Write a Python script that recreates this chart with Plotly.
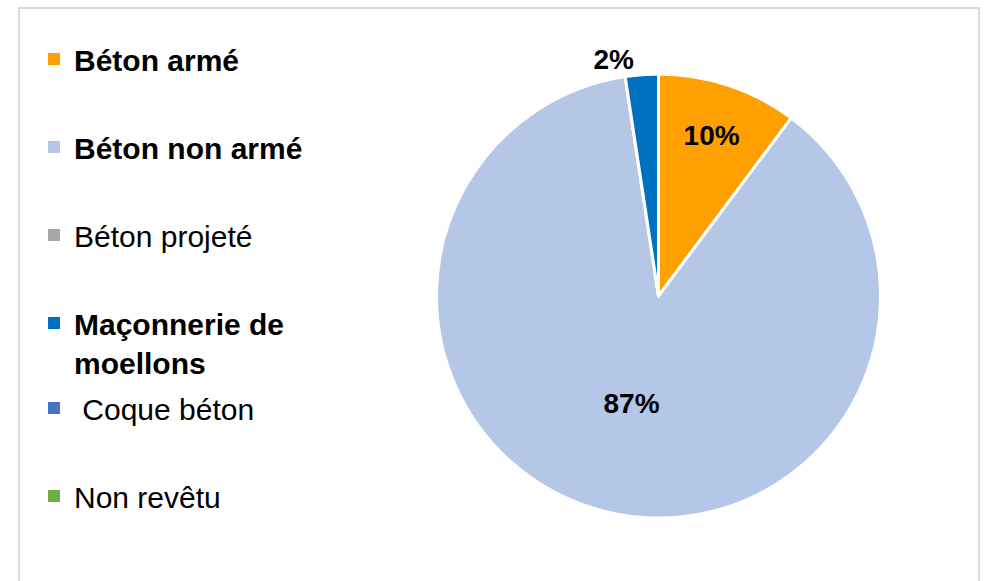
import plotly.graph_objects as go

# ---- data ----
categories = ["Béton armé", "Béton non armé", "Béton projeté",
              "Maçonnerie de moellons", "Coque béton", "Non revêtu"]
legend_labels = ["<b>Béton armé</b>", "<b>Béton non armé</b>", "Béton projeté",
                 "<b>Maçonnerie de<br>moellons</b>", "\u00a0Coque béton", "Non revêtu"]
values = [10.2, 87.4, 0.0, 2.4, 0.0, 0.0]
colors = ["#FFA000", "#B4C7E7", "#A5A5A5", "#0070C0", "#4472C4", "#70AD47"]
text_pos = ["inside", "inside", "inside", "outside", "inside", "inside"]

W, H = 984, 581
FONT = "Liberation Sans, Arial, sans-serif"

fig = go.Figure()

fig.add_trace(go.Pie(
    labels=categories,
    values=values,
    sort=False,
    direction="clockwise",
    rotation=0,
    marker=dict(colors=colors, line=dict(color="white", width=3)),
    texttemplate=["%{percent:.0%}" if v > 0 else "" for v in values],
    textposition=text_pos,
    insidetextorientation="horizontal",
    textfont=dict(family=FONT, size=28, color="black", weight="bold"),
    showlegend=False,
    hoverinfo="label+percent",
    domain=dict(x=[(658.5 - 222) / W, (658.5 + 222) / W],
                y=[1 - (296 + 222) / H, 1 - (296 - 222) / H]),
))

# legend entries (split across two legends to reproduce the spacing)
for i, (lab, col) in enumerate(zip(legend_labels, colors)):
    fig.add_trace(go.Scatter(
        x=[None], y=[None], mode="markers",
        marker=dict(symbol="square", size=12, color=col),
        name=lab, legendgroup=f"g{i}",
        legend="legend" if i < 4 else "legend2",
        hoverinfo="skip",
    ))

leg_common = dict(
    font=dict(family=FONT, size=30, color="black"),
    traceorder="grouped", tracegroupgap=46, valign="top",
    bgcolor="rgba(0,0,0,0)", xanchor="left", yanchor="top",
)

fig.update_layout(
    width=W, height=H,
    margin=dict(l=0, r=0, t=0, b=0),
    paper_bgcolor="white", plot_bgcolor="white",
    xaxis=dict(visible=False), yaxis=dict(visible=False),
    legend=dict(x=34 / W, y=1 - 33 / H, **leg_common),
    legend2=dict(x=34 / W, y=1 - 382 / H, **leg_common),
    shapes=[dict(type="rect", xref="paper", yref="paper",
                 x0=19 / W, x1=979 / W, y0=-0.05, y1=1 - 8 / H,
                 line=dict(color="#D9D9D9", width=2), fillcolor="rgba(0,0,0,0)",
                 layer="below")],
)

fig.write_html("out.html",
               config={"displayModeBar": False},
               post_script="document.body.style.margin='0';"
                           "document.body.style.overflow='hidden';")
